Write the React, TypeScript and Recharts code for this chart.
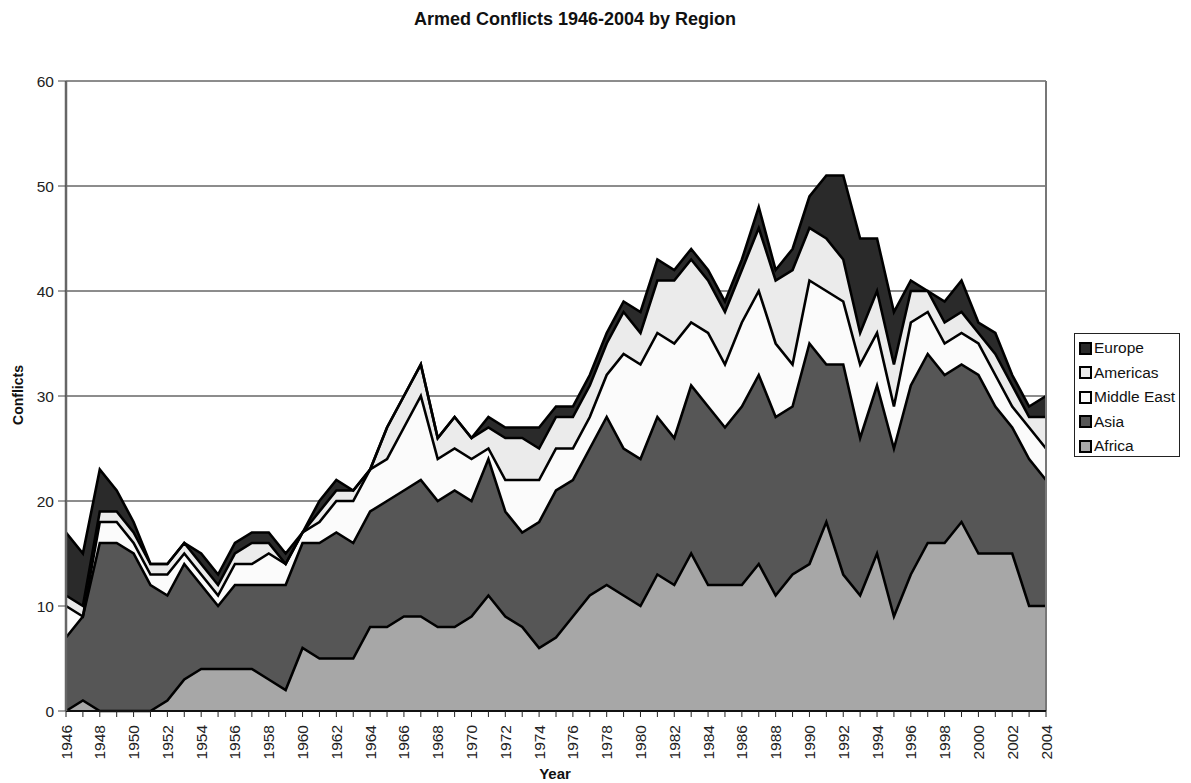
import React from "react"
import { Area, AreaChart, CartesianGrid, ReferenceLine, XAxis, YAxis } from "recharts"

const years = [
  1946, 1947, 1948, 1949, 1950, 1951, 1952, 1953, 1954, 1955,
  1956, 1957, 1958, 1959, 1960, 1961, 1962, 1963, 1964, 1965,
  1966, 1967, 1968, 1969, 1970, 1971, 1972, 1973, 1974, 1975,
  1976, 1977, 1978, 1979, 1980, 1981, 1982, 1983, 1984, 1985,
  1986, 1987, 1988, 1989, 1990, 1991, 1992, 1993, 1994, 1995,
  1996, 1997, 1998, 1999, 2000, 2001, 2002, 2003, 2004,
]

const africa = [
  0, 1, 0, 0, 0, 0, 1, 3, 4, 4,
  4, 4, 3, 2, 6, 5, 5, 5, 8, 8,
  9, 9, 8, 8, 9, 11, 9, 8, 6, 7,
  9, 11, 12, 11, 10, 13, 12, 15, 12, 12,
  12, 14, 11, 13, 14, 18, 13, 11, 15, 9,
  13, 16, 16, 18, 15, 15, 15, 10, 10,
]

const asia = [
  7, 8, 16, 16, 15, 12, 10, 11, 8, 6,
  8, 8, 9, 10, 10, 11, 12, 11, 11, 12,
  12, 13, 12, 13, 11, 13, 10, 9, 12, 14,
  13, 14, 16, 14, 14, 15, 14, 16, 17, 15,
  17, 18, 17, 16, 21, 15, 20, 15, 16, 16,
  18, 18, 16, 15, 17, 14, 12, 14, 12,
]

const middleEast = [
  3, 0, 2, 2, 1, 1, 2, 1, 1, 1,
  2, 2, 3, 2, 1, 2, 3, 4, 4, 4,
  6, 8, 4, 4, 4, 1, 3, 5, 4, 4,
  3, 3, 4, 9, 9, 8, 9, 6, 7, 6,
  8, 8, 7, 4, 6, 7, 6, 7, 5, 4,
  6, 4, 3, 3, 3, 3, 2, 3, 3,
]

const americas = [
  1, 1, 1, 1, 1, 1, 1, 1, 1, 1,
  1, 2, 1, 0, 0, 1, 1, 1, 0, 3,
  3, 3, 2, 3, 2, 2, 4, 4, 3, 3,
  3, 3, 3, 4, 3, 5, 6, 6, 5, 5,
  5, 6, 6, 9, 5, 5, 4, 3, 4, 4,
  3, 2, 2, 2, 1, 2, 2, 1, 3,
]

const europe = [
  6, 5, 4, 2, 1, 0, 0, 0, 1, 1,
  1, 1, 1, 1, 0, 1, 1, 0, 0, 0,
  0, 0, 0, 0, 0, 1, 1, 1, 2, 1,
  1, 1, 1, 1, 2, 2, 1, 1, 1, 1,
  1, 2, 1, 2, 3, 6, 8, 9, 5, 5,
  1, 0, 2, 3, 1, 2, 1, 1, 2,
]

const yTicks = [0, 10, 20, 30, 40, 50, 60]

// bottom to top, same order as the stack
const series = [
  { key: "Africa", values: africa, fill: "#a7a7a7" },
  { key: "Asia", values: asia, fill: "#565656" },
  { key: "Middle East", values: middleEast, fill: "#fbfbfb" },
  { key: "Americas", values: americas, fill: "#ebebeb" },
  { key: "Europe", values: europe, fill: "#2a2a2a" },
]

const data = years.map((year, i) => {
  const row: any = { year }
  series.forEach((s) => {
    row[s.key] = s.values[i]
  })
  return row
})

const FONT = '"Liberation Sans", Arial, sans-serif'

function YearTick({ x, y, payload }: any) {
  if (payload.value % 2 !== 0) return null
  const ty = y + 6
  return (
    <text
      x={x}
      y={ty}
      transform={`rotate(-90, ${x}, ${ty})`}
      textAnchor="end"
      dominantBaseline="central"
      fontSize={15.5}
      fontFamily={FONT}
      fill="#222"
    >
      {payload.value}
    </text>
  )
}

export default function App() {
  const legendItems = [...series].reverse()

  return (
    <div style={{ position: "absolute", left: 0, top: 0, width: 1191, height: 783, background: "#fff", fontFamily: FONT }}>
      <div
        style={{
          position: "absolute",
          left: 0,
          width: 1150,
          top: 9,
          textAlign: "center",
          fontWeight: "bold",
          fontSize: 18,
          color: "#111",
        }}
      >
        Armed Conflicts 1946-2004 by Region
      </div>

      <AreaChart width={1191} height={783} data={data} margin={{ top: 81, right: 145, bottom: 0, left: 0 }}>
        <CartesianGrid vertical={false} stroke="#1a1a1a" strokeWidth={1} />
        <XAxis
          dataKey="year"
          type="number"
          domain={[1946, 2004]}
          ticks={years}
          interval={0}
          height={72}
          tickSize={6}
          tick={<YearTick />}
          tickLine={{ stroke: "#222" }}
          axisLine={{ stroke: "#111", strokeWidth: 2 }}
        />
        <YAxis
          domain={[0, 60]}
          ticks={yTicks}
          width={66}
          tickSize={8}
          tickMargin={4}
          tick={{ fontSize: 15.5, fill: "#222", fontFamily: FONT }}
          tickLine={{ stroke: "#444" }}
          axisLine={{ stroke: "#666", strokeWidth: 2.5 }}
        />
        {/* fills first, then the outlines on top so each border keeps its full width */}
        {series.map((s) => (
          <Area
            key={s.key}
            type="linear"
            dataKey={s.key}
            stackId="fills"
            fill={s.fill}
            fillOpacity={1}
            stroke="none"
            isAnimationActive={false}
          />
        ))}
        {series.map((s) => (
          <Area
            key={`${s.key}-line`}
            type="linear"
            dataKey={s.key}
            stackId="lines"
            fill="none"
            stroke="#000"
            strokeWidth={2.6}
            strokeLinejoin="miter"
            isAnimationActive={false}
          />
        ))}
        <ReferenceLine x={2004} stroke="#777" strokeWidth={2} />
      </AreaChart>

      <div
        style={{
          position: "absolute",
          left: 10,
          top: 395,
          transform: "translate(-50%, -50%) rotate(-90deg)",
          transformOrigin: "center",
          marginLeft: 8,
          fontWeight: "bold",
          fontSize: 14,
          color: "#111",
          whiteSpace: "nowrap",
        }}
      >
        Conflicts
      </div>

      <div
        style={{
          position: "absolute",
          left: 0,
          width: 1110,
          top: 765,
          textAlign: "center",
          fontWeight: "bold",
          fontSize: 15,
          color: "#111",
        }}
      >
        Year
      </div>

      <div
        style={{
          position: "absolute",
          left: 1074,
          top: 333,
          width: 106,
          height: 124,
          border: "1px solid #222",
          boxSizing: "border-box",
          paddingTop: 2,
        }}
      >
        {legendItems.map((s) => (
          <div key={s.key} style={{ display: "flex", alignItems: "center", height: 24.5, paddingLeft: 4 }}>
            <span
              style={{
                width: 9,
                height: 9,
                background: s.fill,
                border: "2px solid #000",
                marginRight: 2,
                display: "inline-block",
              }}
            />
            <span style={{ fontSize: 15.5, color: "#111", whiteSpace: "nowrap" }}>{s.key}</span>
          </div>
        ))}
      </div>
    </div>
  )
}
